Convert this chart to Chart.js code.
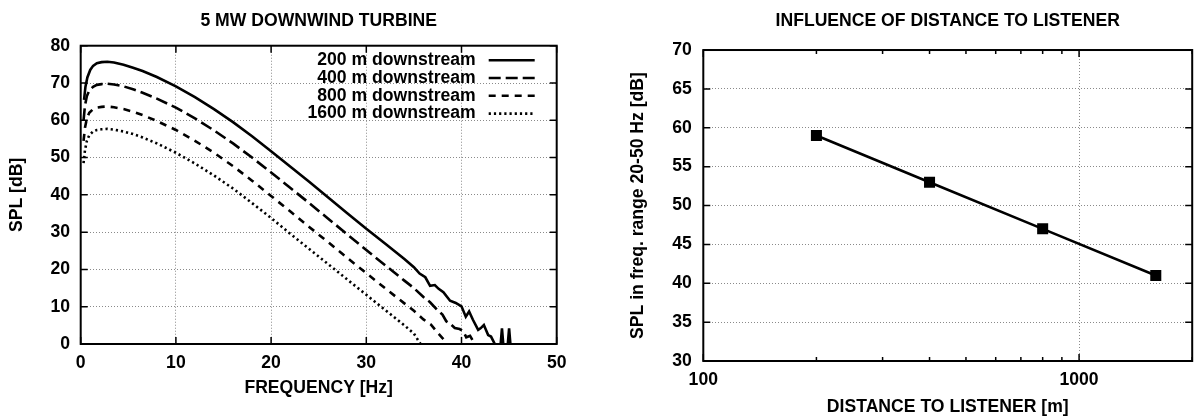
<!DOCTYPE html>
<html>
<head>
  <title>Downwind turbine noise</title>
  <script src="https://cdn.jsdelivr.net/npm/chart.js"></script>
</head>
<body style="margin:0;background:#fff;">
<div style="position:relative;width:1196px;height:418px;overflow:hidden;">
  <canvas id="spectrumChart" width="600" height="418" style="position:absolute;left:0;top:0;"></canvas>
  <canvas id="distanceChart" width="600" height="418" style="position:absolute;left:600px;top:0;"></canvas>
</div>

<script>
  // SPL spectra at four distances downstream
  const f200 = [0.35, 0.5, 0.7, 1, 1.3, 1.7, 2.2, 2.8, 3.5, 4.5, 5.5, 6.5, 8, 10, 12, 14, 16, 18, 20, 22, 24, 26, 28, 30, 32, 34, 35, 35.6, 36.2, 36.7, 37.2, 37.6, 38.1, 38.8, 39.4, 40.0, 40.45, 40.8, 41.2, 41.75, 42.0, 42.35, 42.8, 43.1, 43.5, 44.05, 44.25, 44.45, 44.8, 45.0, 45.2];
  const spl200 = [65.5, 69, 71.5, 73.5, 74.6, 75.3, 75.6, 75.7, 75.5, 74.9, 74.1, 73.2, 71.6, 69.1, 66.2, 63.0, 59.5, 55.7, 51.7, 47.6, 43.5, 39.3, 35.1, 30.9, 26.9, 22.8, 20.6, 18.9, 17.9, 15.6, 15.8, 14.8, 13.9, 11.6, 11.0, 10.1, 7.3, 8.7, 6.5, 3.8, 4.2, 5.1, 2.4, 2.0, 0, -2, 4.2, -2, -2, 4.2, -2];

  const f400 = [0.3, 0.45, 0.65, 0.9, 1.3, 1.7, 2.2, 2.8, 3.5, 4.5, 5.5, 6.5, 8, 10, 12, 14, 16, 18, 20, 22, 24, 26, 28, 30, 32, 34, 35, 36, 36.7, 37.4, 38.0, 38.4, 38.9, 39.3, 39.8, 40.2, 40.5, 40.9, 41.4];
  const spl400 = [60, 64, 66.5, 68.0, 69.0, 69.5, 69.7, 69.8, 69.6, 69.1, 68.3, 67.4, 65.8, 63.4, 60.5, 57.3, 53.8, 50.0, 46.0, 41.9, 37.8, 33.6, 29.4, 25.2, 21.1, 17.0, 15.0, 12.6, 11.2, 9.3, 7.9, 6.1, 5.2, 4.3, 4.0, 3.4, 1.8, 2.2, 0];

  const f800 = [0.3, 0.45, 0.65, 0.9, 1.3, 1.7, 2.2, 2.8, 3.5, 4.5, 5.5, 6.5, 8, 10, 12, 14, 16, 18, 20, 22, 24, 26, 28, 30, 32, 34, 35, 36, 36.8, 37.5, 38.0, 38.5];
  const spl800 = [54.5, 58, 60.5, 62.0, 63.0, 63.4, 63.6, 63.7, 63.5, 63.0, 62.3, 61.4, 59.8, 57.4, 54.5, 51.3, 47.7, 43.8, 39.7, 35.6, 31.4, 27.3, 23.1, 19.0, 14.9, 10.9, 8.9, 6.6, 5.2, 3.0, 1.6, 0];

  const f1600 = [0.3, 0.45, 0.65, 0.9, 1.3, 1.7, 2.2, 2.8, 3.5, 4.5, 5.5, 6.5, 8, 10, 12, 14, 16, 18, 20, 22, 24, 26, 28, 30, 32, 34, 35, 35.7];
  const spl1600 = [48.5, 52, 54.5, 56.0, 57.0, 57.4, 57.6, 57.7, 57.5, 57.0, 56.3, 55.4, 53.8, 51.3, 48.4, 45.2, 41.7, 37.8, 33.8, 29.6, 25.5, 21.4, 17.3, 13.2, 9.1, 5.0, 2.8, 0];

  // band level (20-50 Hz) against listener distance
  const distances = [200, 400, 800, 1600];
  const bandSpl = [59, 53, 47, 41];

  // log axis ticks
  const distMajorTicks = [100, 1000];
  const distMinorTicks = [200, 300, 400, 500, 600, 700, 800, 900, 2000];

  const FONT = { family: "'Liberation Sans', Arial, sans-serif", size: 17.6, weight: 'bold' };
  Chart.defaults.font = FONT;
  Chart.defaults.color = '#000';

  const toPoints = (xs, ys) => xs.map((x, i) => ({ x, y: ys[i] }));

  // gnuplot style box with inward tick marks
  const framePlugin = {
    id: 'frame',
    afterDatasetsDraw(chart, args, opts) {
      const { ctx, chartArea: a, scales: { x, y } } = chart;
      ctx.save();
      ctx.strokeStyle = '#000';
      ctx.lineWidth = 1.5;
      ctx.beginPath();
      const vTick = (v, len) => {
        const px = x.getPixelForValue(v);
        ctx.moveTo(px, a.bottom); ctx.lineTo(px, a.bottom - len);
        ctx.moveTo(px, a.top); ctx.lineTo(px, a.top + len);
      };
      const hTick = (v, len) => {
        const py = y.getPixelForValue(v);
        ctx.moveTo(a.left, py); ctx.lineTo(a.left + len, py);
        ctx.moveTo(a.right, py); ctx.lineTo(a.right - len, py);
      };
      x.ticks.forEach(t => vTick(t.value, 7));
      y.ticks.forEach(t => hTick(t.value, 7));
      (opts.minorX || []).forEach(v => vTick(v, 4));
      ctx.stroke();
      ctx.lineWidth = 2;
      ctx.strokeRect(a.left, a.top, a.right - a.left, a.bottom - a.top);
      ctx.restore();
    }
  };

  // key in the top right corner: label text first, line sample after it
  const keyPlugin = {
    id: 'key',
    afterDraw(chart) {
      const { ctx, chartArea: a } = chart;
      const sampleEnd = a.right - 22, sampleLen = 46;
      ctx.save();
      ctx.font = `bold ${FONT.size}px ${FONT.family}`;
      ctx.textAlign = 'right';
      ctx.textBaseline = 'middle';
      ctx.fillStyle = '#000';
      chart.data.datasets.forEach((ds, i) => {
        const yy = a.top + 14.5 + i * 17.8;
        ctx.fillText(ds.label, sampleEnd - sampleLen - 13, yy);
        ctx.beginPath();
        ctx.strokeStyle = ds.borderColor;
        ctx.lineWidth = ds.borderWidth;
        ctx.lineCap = ds.borderCapStyle || 'butt';
        ctx.setLineDash(ds.borderDash || []);
        ctx.moveTo(sampleEnd - sampleLen, yy);
        ctx.lineTo(sampleEnd, yy);
        ctx.stroke();
      });
      ctx.restore();
    }
  };

  const gridOpts = { color: '#8a8a8a', lineWidth: 1, drawTicks: false };
  const borderOpts = { display: false, dash: [1, 2] };

  new Chart(document.getElementById('spectrumChart'), {
    type: 'line',
    data: {
      datasets: [
        { label: '200 m downstream', data: toPoints(f200, spl200), borderColor: '#000', borderWidth: 2.6, borderDash: [] },
        { label: '400 m downstream', data: toPoints(f400, spl400), borderColor: '#000', borderWidth: 2.6, borderDash: [12, 5] },
        { label: '800 m downstream', data: toPoints(f800, spl800), borderColor: '#000', borderWidth: 2.6, borderDash: [7, 6] },
        { label: '1600 m downstream', data: toPoints(f1600, spl1600), borderColor: '#000', borderWidth: 2.6, borderDash: [2.2, 3] }
      ]
    },
    options: {
      responsive: false,
      animation: false,
      devicePixelRatio: 1,
      layout: { padding: { left: 0, right: 43.3, top: 0, bottom: 0 } },
      elements: { point: { radius: 0 }, line: { tension: 0 } },
      plugins: {
        legend: { display: false },
        tooltip: { enabled: false },
        title: { display: true, fullSize: false, text: '5 MW DOWNWIND TURBINE', font: FONT, padding: { top: 11, bottom: 13.6 } }
      },
      scales: {
        x: {
          type: 'linear', min: 0, max: 50,
          ticks: { stepSize: 10, padding: 9, maxRotation: 0 },
          grid: gridOpts, border: borderOpts,
          title: { display: true, text: 'FREQUENCY [Hz]', font: FONT, padding: { top: 0, bottom: 19.4 } },
          afterFit: s => { s.height = 74; }
        },
        y: {
          min: 0, max: 80,
          ticks: { stepSize: 10, padding: 10.7 },
          grid: gridOpts, border: borderOpts,
          title: { display: true, text: 'SPL [dB]', font: FONT, padding: { top: 6.4, bottom: 0 } },
          afterFit: s => { s.width = 80.7; }
        }
      }
    },
    plugins: [framePlugin, keyPlugin]
  });

  new Chart(document.getElementById('distanceChart'), {
    type: 'line',
    data: {
      datasets: [{
        label: 'SPL 20-50 Hz',
        data: toPoints(distances, bandSpl),
        borderColor: '#000', borderWidth: 2.6,
        pointStyle: 'rect', pointRadius: 7.8,
        pointBackgroundColor: '#000', pointBorderColor: '#000', pointBorderWidth: 0
      }]
    },
    options: {
      responsive: false,
      animation: false,
      devicePixelRatio: 1,
      layout: { padding: { left: 0, right: 1, top: 0, bottom: 0 } },
      elements: { line: { tension: 0 } },
      plugins: {
        legend: { display: false },
        tooltip: { enabled: false },
        title: { display: true, fullSize: false, text: 'INFLUENCE OF DISTANCE TO LISTENER', font: FONT, padding: { top: 11, bottom: 17.9 } },
        frame: { minorX: distMinorTicks }
      },
      scales: {
        x: {
          type: 'logarithmic', min: 100, max: 2000,
          afterBuildTicks: s => { s.ticks = distMajorTicks.map(v => ({ value: v })); },
          ticks: { padding: 9, maxRotation: 0, autoSkip: false, callback: v => String(v) },
          grid: gridOpts, border: borderOpts,
          title: { display: true, text: 'DISTANCE TO LISTENER [m]', font: FONT, padding: { top: 0, bottom: 0.4 } },
          afterFit: s => { s.height = 57; }
        },
        y: {
          min: 30, max: 70,
          ticks: { stepSize: 5, padding: 11.6 },
          grid: gridOpts, border: borderOpts,
          title: { display: true, text: 'SPL in freq. range 20-50 Hz [dB]', font: FONT, padding: { top: 27.4, bottom: 0 } },
          afterFit: s => { s.width = 103.3; }
        }
      }
    },
    plugins: [framePlugin]
  });
</script>
</body>
</html>
